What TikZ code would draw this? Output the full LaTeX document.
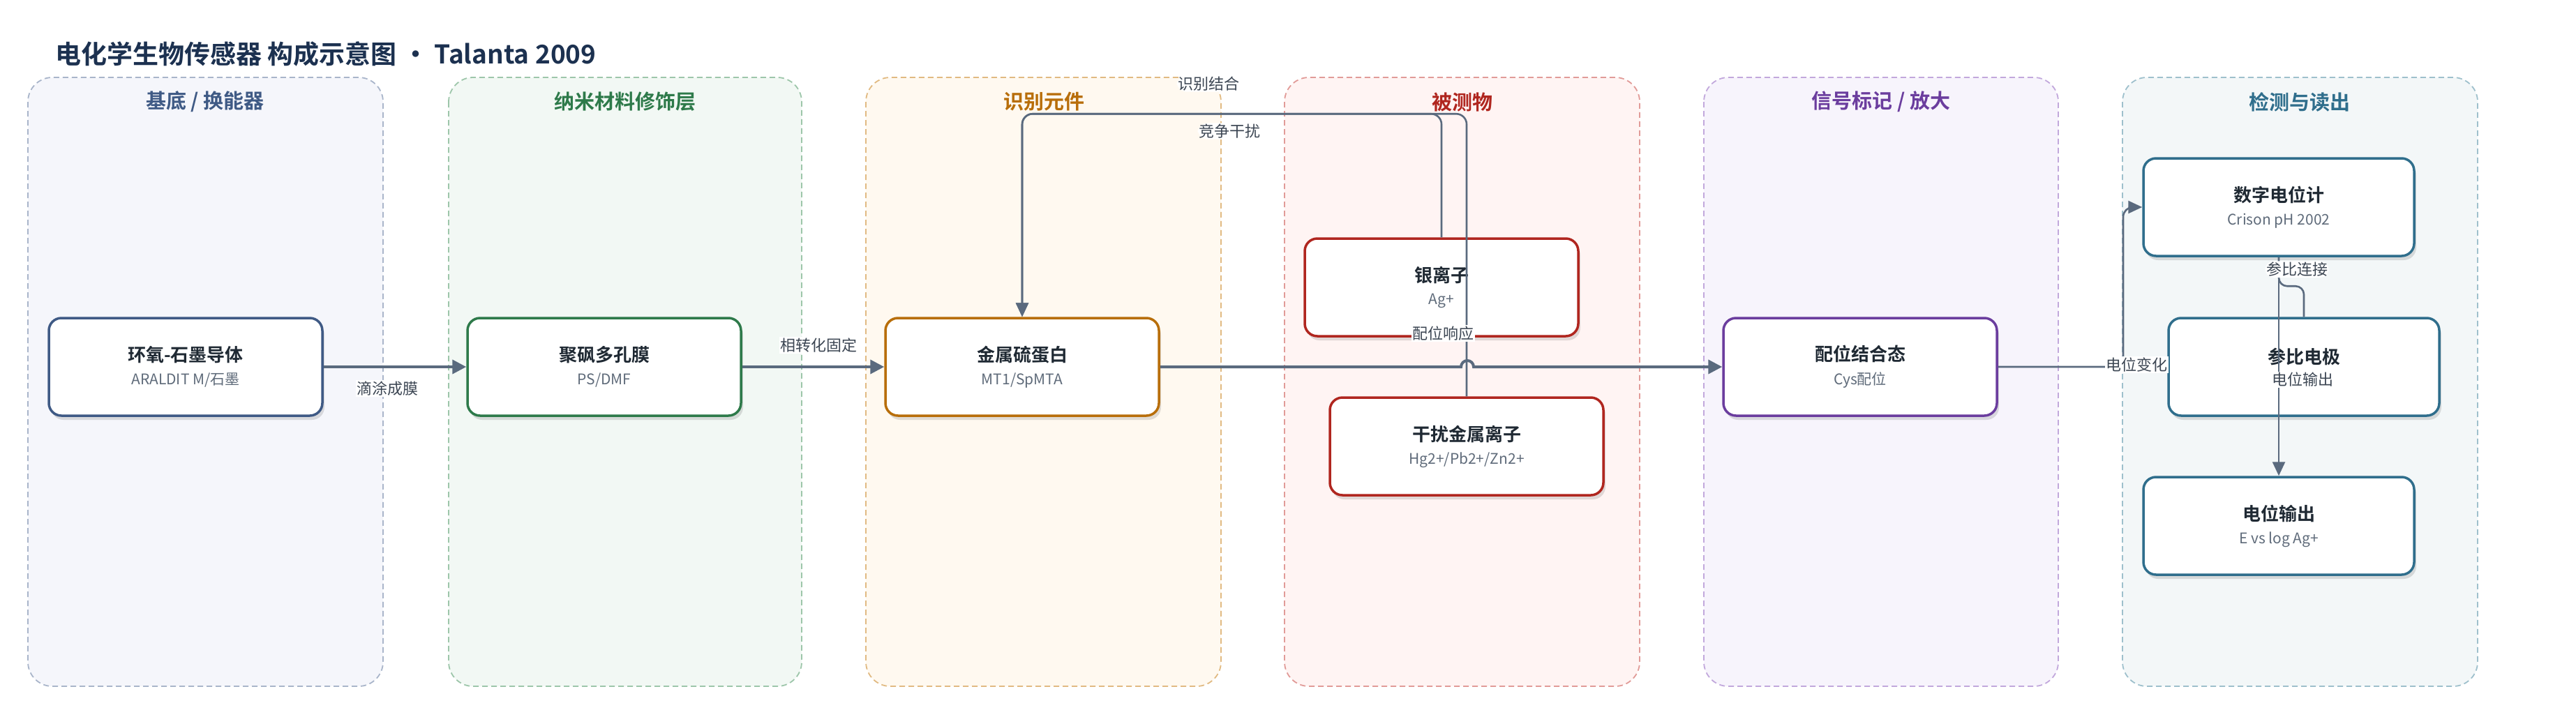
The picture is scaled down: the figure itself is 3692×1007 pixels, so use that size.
\documentclass[tikz,border=0pt]{standalone}
\usepackage{fontspec}
\setmainfont{Noto Sans CJK SC}[BoldFont={Noto Sans CJK SC Bold}]
\usepackage{xcolor}
\usetikzlibrary{arrows.meta,shadows}

\definecolor{headink}{HTML}{1C3150}
\definecolor{titleink}{HTML}{1F2933}
\definecolor{subink}{HTML}{5F6B7A}
\definecolor{lblink}{HTML}{3C4653}
\definecolor{linkgray}{HTML}{5A6A7E}
% column colours: border of blocks / panel fill / panel line
\definecolor{subC}{HTML}{3F5A85}\definecolor{subF}{HTML}{F5F6FB}\definecolor{subL}{HTML}{A9B5CA}
\definecolor{memC}{HTML}{2E7A4A}\definecolor{memF}{HTML}{F2F8F4}\definecolor{memL}{HTML}{9DC6AA}
\definecolor{recC}{HTML}{B86E0A}\definecolor{recF}{HTML}{FFF9F0}\definecolor{recL}{HTML}{E1BA82}
\definecolor{anaC}{HTML}{B0261F}\definecolor{anaF}{HTML}{FFF4F3}\definecolor{anaL}{HTML}{E19B98}
\definecolor{sigC}{HTML}{6B3D9E}\definecolor{sigF}{HTML}{F7F4FC}\definecolor{sigL}{HTML}{C2A8DC}
\definecolor{detC}{HTML}{2F6E8C}\definecolor{detF}{HTML}{F3F7F8}\definecolor{detL}{HTML}{9EC0CC}

\begin{document}
\begin{tikzpicture}[
    x=1pt, y=-1pt,
    panel/.style={rounded corners=35pt, dash pattern=on 8pt off 5pt, line width=1.8pt},
    ptitle/.style={font=\fontsize{29pt}{33pt}\selectfont\bfseries},
    block/.style={rectangle, rounded corners=18pt, line width=3.5pt, fill=white,
                  minimum width=392pt, minimum height=140pt, align=center, text=titleink,
                  drop shadow={shadow xshift=3pt, shadow yshift=-6pt, opacity=0.12, fill=black}},
    main/.style={draw=linkgray, line width=4pt, -{Triangle[length=20pt,width=20pt]}},
    link/.style={draw=linkgray, line width=2.6pt, -{Triangle[length=20pt,width=18pt]}},
    lbl/.style={fill=white, inner sep=1.5pt, text=lblink, font=\fontsize{22pt}{26pt}\selectfont}
]
\path[use as bounding box] (0,0) rectangle (3692,1007);

% Title
\node[anchor=west, text=headink, font=\fontsize{37pt}{42pt}\selectfont\bfseries] (title) at (76,77)
    {电化学生物传感器 构成示意图 · Talanta 2009};

% Column panels
\draw[panel, draw=subL, fill=subF] (40,111) rectangle (549,984);
\draw[panel, draw=memL, fill=memF] (643,111) rectangle (1149,984);
\draw[panel, draw=recL, fill=recF] (1241,111) rectangle (1750,984);
\draw[panel, draw=anaL, fill=anaF] (1841,111) rectangle (2350,984);
\draw[panel, draw=sigL, fill=sigF] (2442,111) rectangle (2950,984);
\draw[panel, draw=detL, fill=detF] (3042,111) rectangle (3551,984);

\node[ptitle, text=subC] (ptsub) at (294,146) {基底 / 换能器};
\node[ptitle, text=memC] (ptmem) at (896,146) {纳米材料修饰层};
\node[ptitle, text=recC] (ptrec) at (1496,146) {识别元件};
\node[ptitle, text=anaC] (ptana) at (2096,146) {被测物};
\node[ptitle, text=sigC] (ptsig) at (2696,146) {信号标记 / 放大};
\node[ptitle, text=detC] (ptdet) at (3296,146) {检测与读出};

% Blocks
\node[block, draw=subC] (sub) at (266,526)
    {{\fontsize{26pt}{30pt}\selectfont\bfseries 环氧-石墨导体}\\[13pt]{\fontsize{21pt}{25pt}\selectfont\color{subink}ARALDIT M/石墨}};
\node[block, draw=memC] (mem) at (866,526)
    {{\fontsize{26pt}{30pt}\selectfont\bfseries 聚砜多孔膜}\\[13pt]{\fontsize{21pt}{25pt}\selectfont\color{subink}PS/DMF}};
\node[block, draw=recC] (mt) at (1465,526)
    {{\fontsize{26pt}{30pt}\selectfont\bfseries 金属硫蛋白}\\[13pt]{\fontsize{21pt}{25pt}\selectfont\color{subink}MT1/SpMTA}};
\node[block, draw=anaC] (ag) at (2066,412)
    {{\fontsize{26pt}{30pt}\selectfont\bfseries 银离子}\\[13pt]{\fontsize{21pt}{25pt}\selectfont\color{subink}Ag+}};
\node[block, draw=anaC] (intf) at (2102,640)
    {{\fontsize{26pt}{30pt}\selectfont\bfseries 干扰金属离子}\\[13pt]{\fontsize{21pt}{25pt}\selectfont\color{subink}Hg2+/Pb2+/Zn2+}};
\node[block, draw=sigC] (coord) at (2666,526)
    {{\fontsize{26pt}{30pt}\selectfont\bfseries 配位结合态}\\[13pt]{\fontsize{21pt}{25pt}\selectfont\color{subink}Cys配位}};
\node[block, draw=detC, minimum width=388pt] (meter) at (3266,297)
    {{\fontsize{26pt}{30pt}\selectfont\bfseries 数字电位计}\\[13pt]{\fontsize{21pt}{25pt}\selectfont\color{subink}Crison pH 2002}};
\node[block, draw=detC, minimum width=388pt] (ref) at (3302,526)
    {{\fontsize{26pt}{30pt}\selectfont\bfseries 参比电极}\\[8pt]{\fontsize{21pt}{25pt}\selectfont\phantom{电位输出}}};
\node[block, draw=detC, minimum width=388pt] (out) at (3266,754)
    {{\fontsize{26pt}{30pt}\selectfont\bfseries 电位输出}\\[13pt]{\fontsize{21pt}{25pt}\selectfont\color{subink}E vs log Ag+}};

% Connectors
\coordinate (hop) at (2094,526);
\coordinate (bend) at (3043,526);

\draw[link, rounded corners=15pt] (ag.north) -- ++(0,-177) -| (mt.north)
    node[lbl] at (1732,120) {识别结合};
\draw[link, rounded corners=15pt] (intf.north) -- ++(0,-405) -| (mt.north)
    node[lbl] at (1762,188) {竞争干扰};

\draw[main] (sub) -- node[lbl, pos=0.45, yshift=-31pt] {滴涂成膜} (mem);
\draw[main] (mem) -- node[lbl, xshift=8pt, yshift=31pt] {相转化固定} (mt);
\draw[main] (mt.east) -- node[lbl, pos=0.94, yshift=48pt] {配位响应} (hop)
    arc[start angle=180, end angle=0, radius=9pt] -- (coord.west);

\draw[link, rounded corners=14pt] (coord.east) -- (bend) |- (meter.west);
\node[lbl] (lblpot) at (3062,523) {电位变化};

\draw[link] (meter.south) -- node[lbl, pos=0.56, xshift=34pt] {电位输出} (out.north);
\draw[draw=linkgray, line width=2.6pt, rounded corners=12pt] (ref.north) -- ++(0,-44) -| (meter.south)
    node[lbl, pos=0.79, xshift=26pt] {参比连接};

\end{tikzpicture}
\end{document}
